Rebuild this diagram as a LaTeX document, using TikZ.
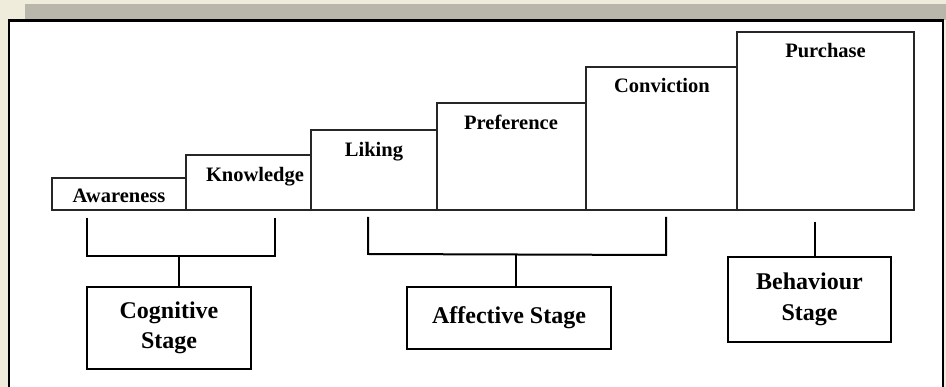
\documentclass[tikz,border=0pt]{standalone}
\usepackage{fontspec}
\setmainfont{Liberation Serif}
\definecolor{bgbeige}{RGB}{240,236,220}
\definecolor{bandgrey}{RGB}{185,182,172}
\tikzset{
  stepbox/.style={draw=black!85, line width=1.3pt, fill=white, inner sep=0pt},
  steplabel/.style={anchor=base, inner sep=0pt, font=\fontsize{20.5}{24}\selectfont\bfseries},
  stagebox/.style={draw=black, line width=2pt, fill=white, inner sep=0pt, align=center,
    font=\fontsize{24}{30.5}\selectfont\bfseries},
  bracket/.style={draw=black, line width=2pt},
}
\begin{document}
\begin{tikzpicture}[x=1pt,y=-1pt]
\useasboundingbox (0,0) rectangle (946,387);
\begin{scope}
\clip (0,0) rectangle (946,387);
\fill[bgbeige] (0,0) rectangle (946,387);
\fill[bandgrey] (25,4) rectangle (946,20);
\fill[white] (9,20.5) rectangle (943,400);
\draw[line width=2.5pt] (9,400) -- (9,20.5) -- (943,20.5) -- (943,400);
\end{scope}

% step boxes
\node[stepbox, minimum width=134pt, minimum height=32pt] (aw) at (119,194) {};
\node[stepbox, minimum width=125pt, minimum height=55pt] (kn) at (248.5,182.5) {};
\node[stepbox, minimum width=126pt, minimum height=80pt] (li) at (374,170) {};
\node[stepbox, minimum width=149pt, minimum height=107pt] (pr) at (511.5,156.5) {};
\node[stepbox, minimum width=151pt, minimum height=143pt] (co) at (661.5,138.5) {};
\node[stepbox, minimum width=177pt, minimum height=178pt] (pu) at (825.5,121) {};

\node[steplabel] (awt) at (119,203) {Awareness};
\node[steplabel] (knt) at (255,182) {Knowledge};
\node[steplabel] (lit) at (374,157) {Liking};
\node[steplabel] (prt) at (511,130) {Preference};
\node[steplabel] (cot) at (662,93) {Conviction};
\node[steplabel] (put) at (825.5,58) {Purchase};

% stage boxes
\node[stagebox, minimum width=164pt, minimum height=82pt] (cog) at (169,328) {Cognitive\\Stage};
\node[stagebox, minimum width=204pt, minimum height=62pt] (aff) at (509,318) {Affective Stage};
\node[stagebox, minimum width=163pt, minimum height=85pt] (beh) at (809.5,299.5) {Behaviour\\Stage};

% brackets
\coordinate (cbl) at (87,218);
\coordinate (cbr) at (275,218);
\coordinate (cbm) at (179,256);
\draw[bracket] (cbl) -- (87,256) -- (275,256) -- (cbr);
\draw[bracket] (cbm) -- (cbm |- cog.north);

\coordinate (abl) at (368,217);
\coordinate (abr) at (666,217);
\coordinate (abm) at (516,254.5);
\draw[bracket] (abl) -- (368,254) -- (666,255) -- (abr);
\draw[bracket] (abm) -- (abm |- aff.north);

\coordinate (bst) at (815,222);
\draw[bracket] (bst) -- (bst |- beh.north);
\end{tikzpicture}
\end{document}
